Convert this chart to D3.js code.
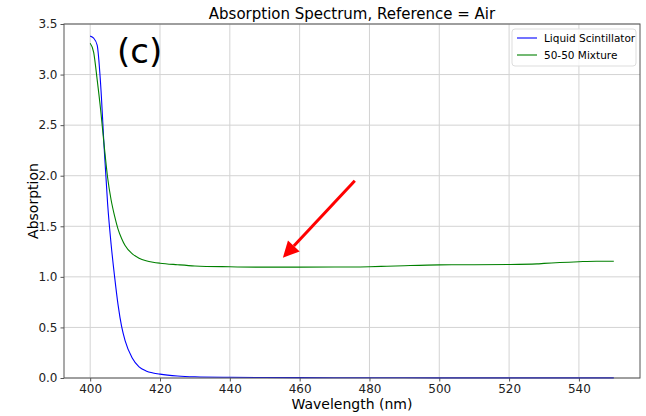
<!DOCTYPE html>
<html>
<head>
<script src="https://d3js.org/d3.v7.min.js"></script>
<style>
  body { margin: 0; background: white; }
  text { font-family: "DejaVu Sans", sans-serif; }
</style>
</head>
<body>
<svg id="chart" width="646" height="416"></svg>
<script>
// wavelength samples (nm)
const wavelengths = [400, 401, 402, 403, 404, 405, 406, 407, 408, 409, 410, 412, 414, 416, 418, 420, 425, 430, 440, 450, 460, 470, 475, 480, 485, 490, 500, 510, 520, 528, 530, 540, 545, 550];
const liquidScint = [3.38, 3.36, 3.29, 2.9, 2.28, 1.72, 1.32, 1.0, 0.72, 0.51, 0.37, 0.2, 0.11, 0.07, 0.05, 0.038, 0.02, 0.012, 0.007, 0.005, 0.004, 0.003, 0.003, 0.002, 0.002, 0.002, 0.001, 0.001, 0.001, 0.001, 0.001, 0.001, 0.001, 0.001];
const mixture5050 = [3.31, 3.22, 2.95, 2.65, 2.3, 1.98, 1.76, 1.6, 1.47, 1.38, 1.31, 1.23, 1.185, 1.16, 1.145, 1.135, 1.12, 1.108, 1.1, 1.096, 1.096, 1.098, 1.098, 1.1, 1.105, 1.11, 1.118, 1.12, 1.122, 1.128, 1.133, 1.15, 1.155, 1.155];
const xTicks = [400, 420, 440, 460, 480, 500, 520, 540];
const yTicks = [0, 0.5, 1.0, 1.5, 2.0, 2.5, 3.0, 3.5];
const seriesNames = ["Liquid Scintillator", "50-50 Mixture"];
const seriesColors = ["blue", "green"];
// arrow annotation [tail, head] in data units
const arrowPts = [[475.8, 1.95], [455.2, 1.19]];

const svg = d3.select("#chart");
const mLeft = 64, mRight = 640, mTop = 24, mBottom = 378;

const x = d3.scaleLinear().domain([392.5, 557.5]).range([mLeft, mRight]);
const y = d3.scaleLinear().domain([0, 3.5]).range([mBottom, mTop]);

// grid
svg.append("g").selectAll("line").data(xTicks).join("line")
  .attr("x1", d => x(d)).attr("x2", d => x(d))
  .attr("y1", mTop).attr("y2", mBottom)
  .attr("stroke", "#d3d3d3").attr("stroke-width", 1);
svg.append("g").selectAll("line").data(yTicks).join("line")
  .attr("x1", mLeft).attr("x2", mRight)
  .attr("y1", d => y(d)).attr("y2", d => y(d))
  .attr("stroke", "#d3d3d3").attr("stroke-width", 1);

// axes
const xAxis = svg.append("g").attr("transform", `translate(0,${mBottom})`)
  .call(d3.axisBottom(x).tickValues(xTicks).tickSize(3.5).tickPadding(3).tickFormat(d3.format("d")));
const yAxis = svg.append("g").attr("transform", `translate(${mLeft},0)`)
  .call(d3.axisLeft(y).tickValues(yTicks).tickSize(3.5).tickPadding(3).tickFormat(d3.format(".1f")));
[xAxis, yAxis].forEach(g => {
  g.select(".domain").remove();
  g.selectAll("line").attr("stroke", "#555");
  g.selectAll("text").attr("font-size", 12).attr("fill", "#222").attr("font-family", "DejaVu Sans");
});

// lines
const line = d3.line().x(d => x(d[0])).y(d => y(d[1])).curve(d3.curveMonotoneX);
[liquidScint, mixture5050].forEach((vals, i) => {
  svg.append("path")
    .datum(wavelengths.map((w, j) => [w, vals[j]]))
    .attr("d", line)
    .attr("fill", "none")
    .attr("stroke", seriesColors[i])
    .attr("stroke-width", 1.1);
});

// frame
svg.append("rect").attr("x", mLeft).attr("y", mTop)
  .attr("width", mRight - mLeft).attr("height", mBottom - mTop)
  .attr("fill", "none").attr("stroke", "#555").attr("stroke-width", 1);

// arrow
const [t0, h0] = arrowPts.map(p => [x(p[0]), y(p[1])]);
const ang = Math.atan2(h0[1] - t0[1], h0[0] - t0[0]);
const headLen = 16, headW = 8;
const bx = h0[0] - headLen * Math.cos(ang), by = h0[1] - headLen * Math.sin(ang);
svg.append("line").attr("x1", t0[0]).attr("y1", t0[1]).attr("x2", bx).attr("y2", by)
  .attr("stroke", "red").attr("stroke-width", 3);
svg.append("path")
  .attr("d", `M${h0[0]},${h0[1]} L${bx + headW * Math.sin(ang)},${by - headW * Math.cos(ang)} L${bx - headW * Math.sin(ang)},${by + headW * Math.cos(ang)} Z`)
  .attr("fill", "red");

// titles
svg.append("text").attr("x", (mLeft + mRight) / 2).attr("y", 19)
  .attr("text-anchor", "middle").attr("font-size", 15).text("Absorption Spectrum, Reference = Air");
svg.append("text").attr("x", (mLeft + mRight) / 2).attr("y", 409)
  .attr("text-anchor", "middle").attr("font-size", 14).text("Wavelength (nm)");
svg.append("text").attr("transform", `translate(38,${(mTop + mBottom) / 2}) rotate(-90)`)
  .attr("text-anchor", "middle").attr("font-size", 14).text("Absorption");
svg.append("text").attr("x", 117).attr("y", 63).attr("font-size", 34)
  .attr("font-family", "Liberation Sans").text("(c)");

// legend
const lg = svg.append("g").attr("transform", "translate(512,29)");
lg.append("rect").attr("width", 124).attr("height", 37).attr("rx", 3)
  .attr("fill", "white").attr("fill-opacity", 0.8).attr("stroke", "#ddd");
seriesNames.forEach((n, i) => {
  lg.append("line").attr("x1", 5).attr("x2", 25).attr("y1", 9 + i * 17).attr("y2", 9 + i * 17)
    .attr("stroke", seriesColors[i]).attr("stroke-width", 1.1);
  lg.append("text").attr("x", 32).attr("y", 13 + i * 17).attr("font-size", 10.5).text(n);
});
</script>
</body>
</html>
